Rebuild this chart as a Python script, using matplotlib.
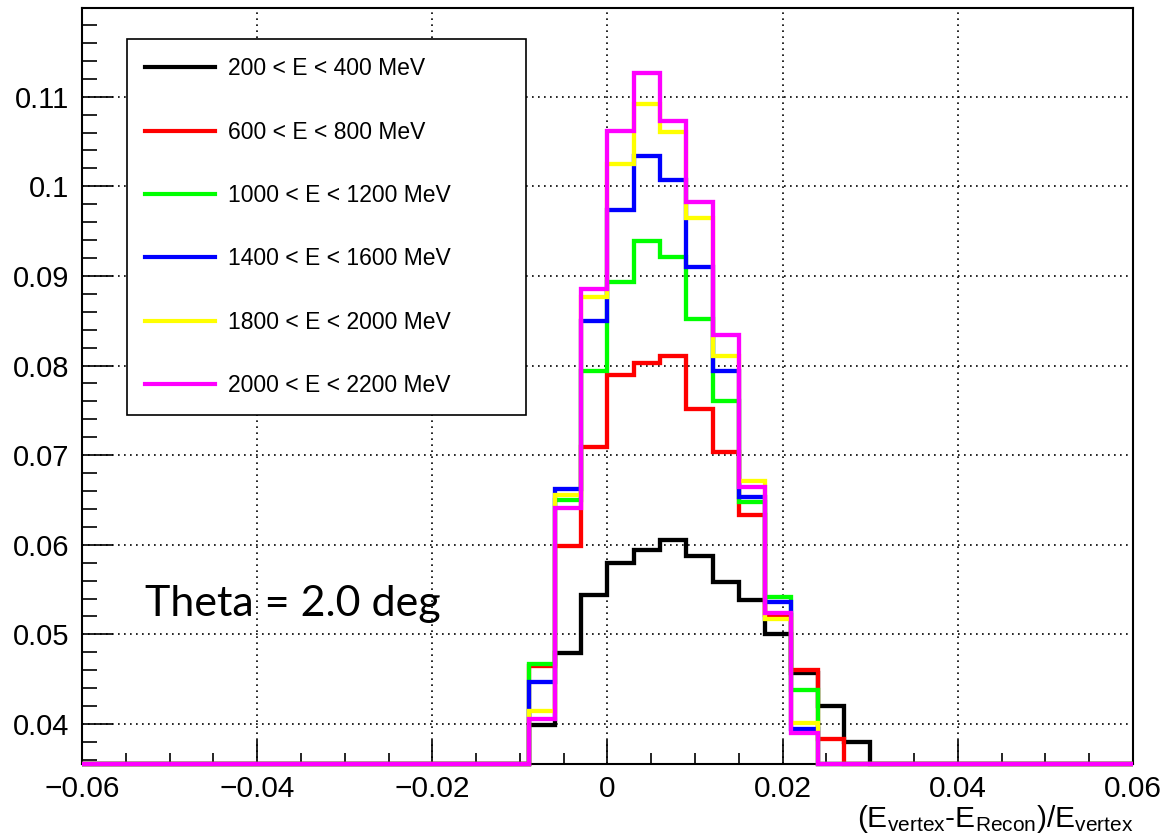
import numpy as np
import matplotlib
matplotlib.use("Agg")
import matplotlib.pyplot as plt
from matplotlib.ticker import MultipleLocator, FuncFormatter

plt.rcParams['font.family'] = ['Liberation Sans', 'DejaVu Sans']
plt.rcParams['mathtext.fontset'] = 'custom'
plt.rcParams['mathtext.rm'] = 'Liberation Sans'
plt.rcParams['mathtext.default'] = 'regular'

# histogram binning: 40 bins of 0.003 from -0.06 to 0.06
x_min, x_max, n_bins = -0.06, 0.06, 40
first_filled = 17  # bin starting at -0.009

labels = ["200 < E < 400 MeV", "600 < E < 800 MeV", "1000 < E < 1200 MeV",
          "1400 < E < 1600 MeV", "1800 < E < 2000 MeV", "2000 < E < 2200 MeV"]
colors = ["#000000", "#ff0000", "#00ff00", "#0000ff", "#ffff00", "#ff00ff"]

# bin contents from -0.009 to 0.030 (empty elsewhere)
e200 = [0.0399, 0.0479, 0.0544, 0.0580, 0.0594, 0.0605, 0.0587, 0.0559, 0.0538, 0.0501, 0.0457, 0.0420, 0.0380]
e600 = [0.0465, 0.0599, 0.0709, 0.0789, 0.0803, 0.0811, 0.0752, 0.0704, 0.0633, 0.0522, 0.0460, 0.0383, 0.0]
e1000 = [0.0467, 0.0650, 0.0794, 0.0893, 0.0939, 0.0921, 0.0852, 0.0760, 0.0648, 0.0542, 0.0438, 0.0, 0.0]
e1400 = [0.0447, 0.0662, 0.0850, 0.0974, 0.1034, 0.1007, 0.0910, 0.0794, 0.0653, 0.0536, 0.0395, 0.0, 0.0]
e1800 = [0.0414, 0.0656, 0.0877, 0.1025, 0.1092, 0.1061, 0.0965, 0.0811, 0.0671, 0.0517, 0.0401, 0.0, 0.0]
e2000 = [0.0406, 0.0641, 0.0885, 0.1062, 0.1126, 0.1073, 0.0983, 0.0834, 0.0665, 0.0524, 0.0390, 0.0, 0.0]
series = [e200, e600, e1000, e1400, e1800, e2000]

y_min, y_max = 0.03554, 0.1199

fig = plt.figure(figsize=(11.66, 8.38), dpi=100)
ax = fig.add_axes([0.0703, 0.0883, 0.9014, 0.9022])

edges = np.linspace(x_min, x_max, n_bins + 1)
for vals, col, lab in zip(series, colors, labels):
    h = np.zeros(n_bins)
    h[first_filled:first_filled + len(vals)] = vals
    # like ROOT, underflowing bins sit on the frame bottom
    h = np.maximum(h, y_min)
    ax.stairs(h, edges, baseline=None, color=col, lw=3.1, label=lab, clip_on=False, zorder=3)

ax.set_xlim(x_min, x_max)
ax.set_ylim(y_min, y_max)

ax.xaxis.set_major_locator(MultipleLocator(0.02))
ax.xaxis.set_minor_locator(MultipleLocator(0.005))
ax.yaxis.set_major_locator(MultipleLocator(0.01))
ax.yaxis.set_minor_locator(MultipleLocator(0.002))
fmt = FuncFormatter(lambda v, p: ('%g' % round(v, 4)).replace('-', '\u2212'))
ax.xaxis.set_major_formatter(fmt)
ax.yaxis.set_major_formatter(fmt)

ax.tick_params(axis='both', which='both', direction='in', top=False, right=False, width=1.2)
ax.tick_params(axis='x', which='major', length=17, pad=8, labelsize=21.5)
ax.tick_params(axis='x', which='minor', length=8)
ax.tick_params(axis='y', which='major', length=22.5, pad=9, labelsize=21)
ax.tick_params(axis='y', which='minor', length=11)
for s in ax.spines.values():
    s.set_linewidth(1.5)

ax.grid(True, which='major', color='black', lw=1.2, linestyle=(0, (1.0, 2.6)))
ax.set_axisbelow(True)

leg = ax.legend(loc='upper left', bbox_to_anchor=(0.0428, 0.9585, 0.38, 0.0),
                mode='expand', fontsize=16.5, labelspacing=1.76, handlelength=3.05,
                handletextpad=0.6, borderpad=0.78, frameon=True, fancybox=False,
                edgecolor='black', framealpha=1.0, borderaxespad=0)
leg.get_frame().set_linewidth(1.2)
for line in leg.get_lines():
    line.set_linewidth(3.0)

ax.text(0.06, 0.196, "Theta = 2.0 deg", transform=ax.transAxes, fontsize=31,
        family=['Lato', 'DejaVu Sans'], va='baseline', ha='left')

fig.text(0.9717, 0.004, r'$(E_{vertex}$-$E_{Recon})/E_{vertex}$', ha='right', va='bottom', fontsize=21.5)

fig.savefig("out.png", dpi=100)
